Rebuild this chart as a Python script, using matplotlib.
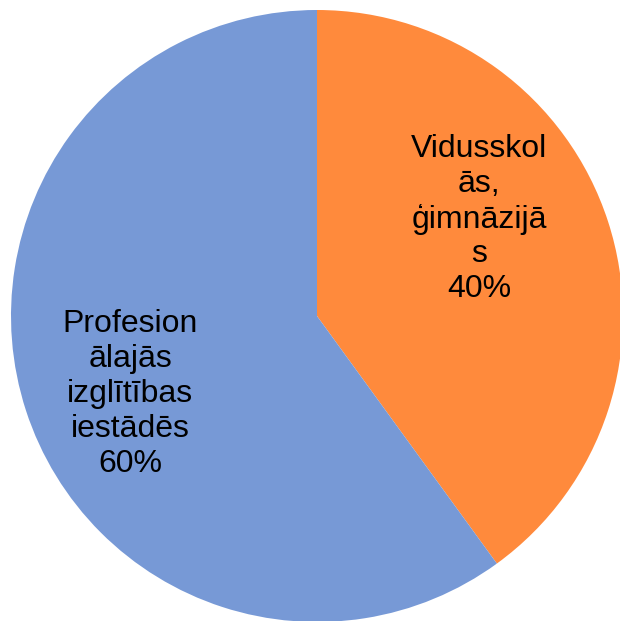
import matplotlib.pyplot as plt

labels = ["Vidusskol\nās,\nģimnāzijā\ns", "Profesion\nālajās\nizglītības\niestādēs"]
shares = [40, 60]
colors = ["#FF8A3C", "#7799D6"]

W, H = 620, 621
cx, cy, r = 317, 316, 306  # pie centre and radius in pixels

fig = plt.figure(figsize=(W / 100, H / 100), dpi=100)
ax = fig.add_axes([0, 0, 1, 1])

ax.pie(shares, colors=colors, startangle=90, counterclock=False, radius=1,
       wedgeprops=dict(linewidth=0))

ax.set_xlim(-cx / r, (W - cx) / r)
ax.set_ylim(-(H - cy) / r, cy / r)
ax.set_aspect("auto")
ax.axis("off")

# label centres in pixels
label_pos = [(479, 219), (130, 394)]
for lab, val, (px, py) in zip(labels, shares, label_pos):
    ax.text((px - cx) / r, (cy - py) / r, f"{lab}\n{val}%", ha="center", va="center",
            fontsize=23, family="Liberation Sans", linespacing=1.21, color="black")

fig.savefig("out.png", dpi=100)
